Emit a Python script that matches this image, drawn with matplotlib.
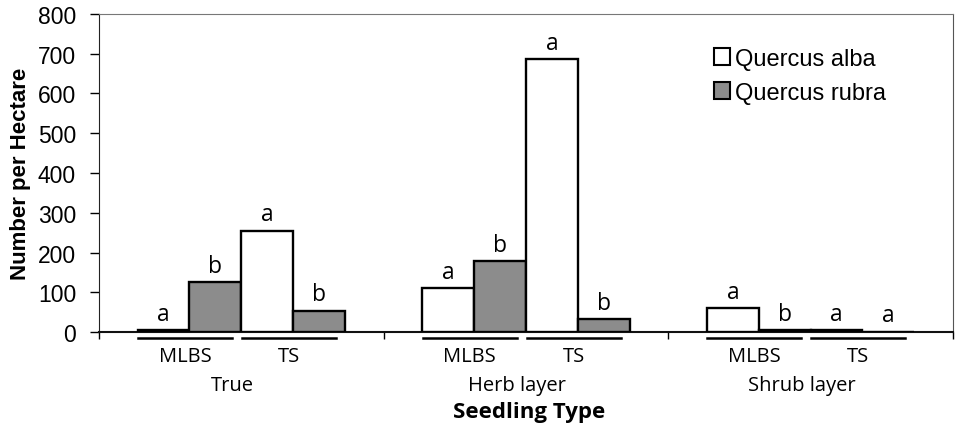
import matplotlib
matplotlib.use("Agg")
import matplotlib.pyplot as plt
from matplotlib.patches import Patch
import numpy as np

# data
groups = ["True", "Herb layer", "Shrub layer"]
subtypes = ["MLBS", "TS"]
alba_mlbs = [4, 111, 60]
rubra_mlbs = [126, 178, 4]
alba_ts = [255, 687, 4]
rubra_ts = [54, 33, 1]
letters_alba_mlbs = ["a", "a", "a"]
letters_rubra_mlbs = ["b", "b", "b"]
letters_alba_ts = ["a", "a", "a"]
letters_rubra_ts = ["b", "b", "a"]

tick_font = "Liberation Sans"
cat_font = "Open Sans"

fig = plt.figure(figsize=(9.57, 4.27), dpi=100)
ax = fig.add_axes([0.1034, 0.2201, 0.8924, 0.7448])

w = 0.182
centers = np.arange(len(groups)) + 0.5
series = [
    (alba_mlbs, letters_alba_mlbs, "white", -1.5),
    (rubra_mlbs, letters_rubra_mlbs, "#8c8c8c", -0.5),
    (alba_ts, letters_alba_ts, "white", 0.5),
    (rubra_ts, letters_rubra_ts, "#8c8c8c", 1.5),
]
for vals, lets, col, off in series:
    xs = centers + off * w
    ax.bar(xs, vals, width=w, color=col, edgecolor="black", linewidth=1.7, zorder=3)
    for x, v, t in zip(xs, vals, lets):
        ax.annotate(t, (x, v), xytext=(0, 3), textcoords="offset points",
                    ha="center", va="bottom", fontsize=16.5, family=cat_font)

ax.set_xlim(0, 3)
ax.set_ylim(0, 800)
ax.set_yticks(range(0, 801, 100))
ax.set_xticks([0, 1, 2, 3])
ax.set_xticklabels([])
ax.tick_params(axis="y", direction="out", length=6.5, width=1, labelsize=16.5, pad=10)
ax.tick_params(axis="x", direction="out", length=5, width=1)
for lab in ax.get_yticklabels():
    lab.set_family(tick_font)

ax.spines["left"].set_color("#222222")
ax.spines["bottom"].set_color("#111111")
ax.spines["bottom"].set_linewidth(1.5)
ax.spines["top"].set_color("#777777")
ax.spines["right"].set_color("#555555")

# multi-level category labels
sub_off = [-0.198, 0.168]
for c, g in zip(centers, groups):
    for off, s in zip(sub_off, subtypes):
        x0 = c + off - 0.165
        x1 = c + off + 0.165
        ax.plot([x0, x1], [-14, -14], color="black", lw=1.8, clip_on=False)
        ax.text(c + off, -61, s, ha="center", va="center", fontsize=14.5,
                family=cat_font)
    ax.text(c - 0.032, -133, g, ha="center", va="center", fontsize=14.5,
            family=cat_font)
ax.text(1.512, -200, "Seedling Type", ha="center", va="center", fontsize=16,
        family=cat_font, fontweight="bold")

ax.set_ylabel("Number per Hectare", fontsize=16, fontweight="bold",
              family=tick_font, labelpad=5)

handles = [Patch(facecolor="white", edgecolor="black", linewidth=1.5),
           Patch(facecolor="#8c8c8c", edgecolor="black", linewidth=1.5)]
leg = ax.legend(handles, ["Quercus alba", "Quercus rubra"], loc="upper left",
                bbox_to_anchor=(0.695, 0.96), frameon=False,
                handlelength=0.7, handleheight=0.7, handletextpad=0.2,
                labelspacing=0.5, prop={"family": tick_font, "size": 17})

fig.savefig("out.png", dpi=100)
